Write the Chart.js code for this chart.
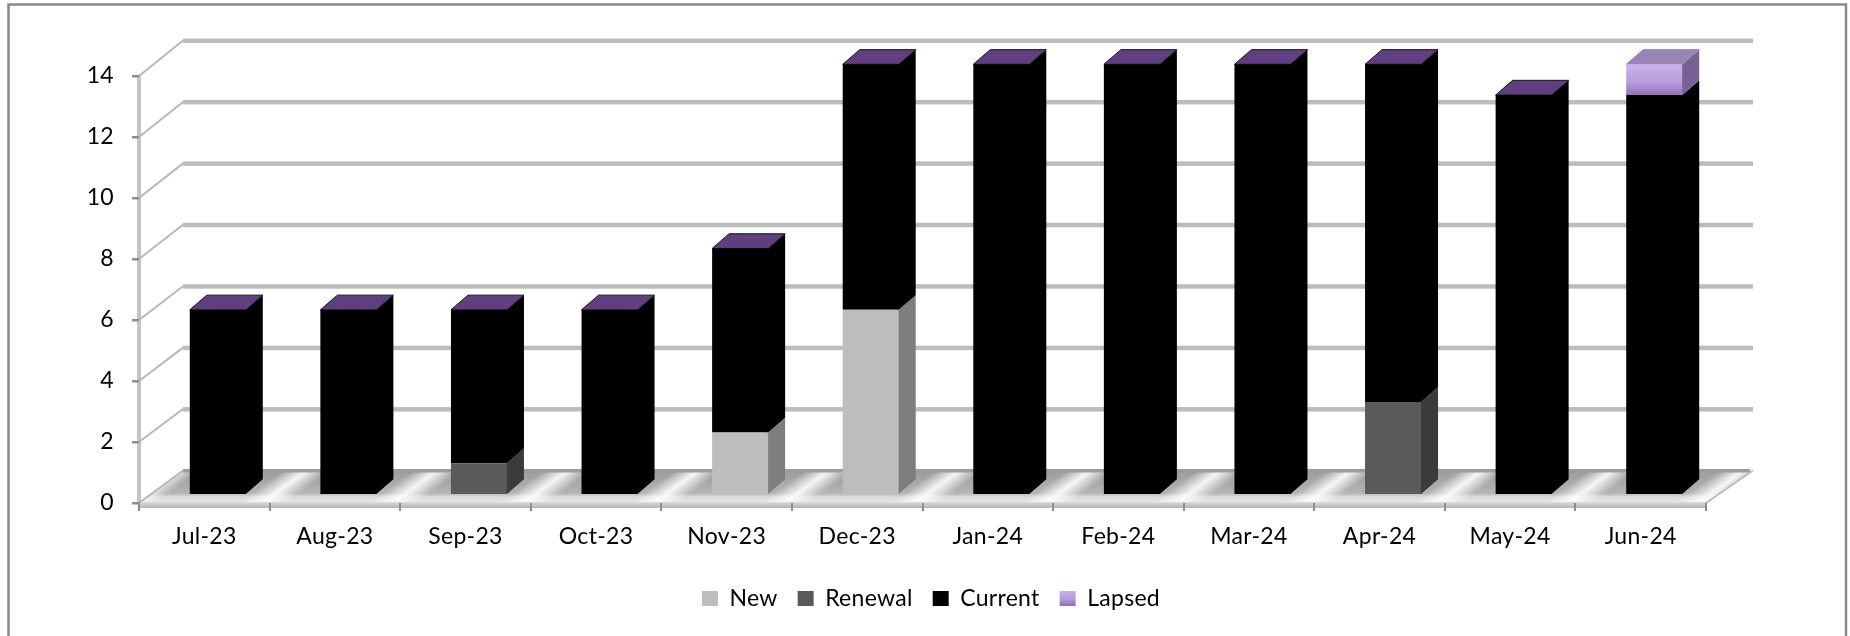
<!DOCTYPE html>
<html>
<head>
<meta charset="utf-8">
<style>
  html, body { margin: 0; padding: 0; background: #fff; overflow: hidden; }
  #chart { display: block; filter: blur(0.6px); }
</style>
<script src="https://cdn.jsdelivr.net/npm/chart.js@4/dist/chart.umd.min.js"></script>
</head>
<body>
<canvas id="chart" width="1850" height="636"></canvas>
<script>
var months = ['Jul-23', 'Aug-23', 'Sep-23', 'Oct-23', 'Nov-23', 'Dec-23', 'Jan-24', 'Feb-24', 'Mar-24', 'Apr-24', 'May-24', 'Jun-24'];
var newValues = [0, 0, 0, 0, 2, 6, 0, 0, 0, 0, 0, 0];
var renewalValues = [0, 0, 1, 0, 0, 0, 0, 0, 0, 3, 0, 0];
var currentValues = [6, 6, 5, 6, 6, 8, 14, 14, 14, 11, 13, 13];
var lapsedValues = [0, 0, 0, 0, 0, 0, 0, 0, 0, 0, 0, 1];

var fontName = 'Lato, Carlito, sans-serif';
var wallDx = 44;        // how far the back wall sits from the front axis
var barShift = 13.5;    // bar front plane, relative to the front axis
var barDepthX = 17;
var barDepthY = 14.7;

// back wall is a little taller than the front axis
function backY(yScale, v) {
    return yScale.getPixelForValue(v) - 32.5 - v * 3 / 14;
}

function lapsedGradient(ctx, top, bottom) {
    var g = ctx.createLinearGradient(0, top, 0, bottom);
    g.addColorStop(0, '#cbb4ec');
    g.addColorStop(0.6, '#b69bdc');
    g.addColorStop(1, '#9373b8');
    return g;
}

function drawFrame(ctx) {
    ctx.strokeStyle = '#8a8a8a';
    ctx.lineWidth = 2.5;
    ctx.beginPath();
    ctx.moveTo(8.5, 640);
    ctx.lineTo(8.5, 4.5);
    ctx.lineTo(1846, 4.5);
    ctx.lineTo(1846, 640);
    ctx.stroke();
}

function drawFloor(chart) {
    var ctx = chart.ctx;
    var y = chart.scales.y;
    var left = chart.chartArea.left, right = chart.chartArea.right;
    var front = y.getPixelForValue(0);
    var back = backY(y, 0);
    var depth = front - back;

    ctx.save();
    ctx.beginPath();
    ctx.moveTo(left, front);
    ctx.lineTo(left + wallDx, back);
    ctx.lineTo(right + wallDx + 3, back);
    ctx.lineTo(right, front);
    ctx.closePath();
    ctx.clip();

    var base = ctx.createLinearGradient(0, back, 0, front);
    base.addColorStop(0, '#9c9c9c');
    base.addColorStop(0.7, '#b4b4b4');
    base.addColorStop(0.8, '#d8d8d8');
    base.addColorStop(1, '#e8e8e8');
    ctx.fillStyle = base;
    ctx.fillRect(left, back, right - left + wallDx + 3, depth);

    // light diagonal stripes between the bars
    var shear = wallDx / depth;
    ctx.transform(1, 0, -shear, 1, shear * front, 0);
    var step = (right - left) / months.length;
    for (var i = 0; i <= months.length; i++) {
        var c = left + step * i - 7;
        var g = ctx.createLinearGradient(c - 24, 0, c + 24, 0);
        g.addColorStop(0, 'rgba(255,255,255,0)');
        g.addColorStop(0.5, 'rgba(255,255,255,0.9)');
        g.addColorStop(1, 'rgba(255,255,255,0)');
        ctx.fillStyle = g;
        ctx.fillRect(c - 24, back, 48, depth);
    }
    ctx.restore();

    // floor back edge, front lip
    ctx.fillStyle = '#9c9c9c';
    ctx.fillRect(left + wallDx, back - 1.5, right - left, 3.5);
    var lip = ctx.createLinearGradient(0, front - 1, 0, front + 5);
    lip.addColorStop(0, '#dcdcdc');
    lip.addColorStop(1, '#b4b4b4');
    ctx.fillStyle = lip;
    ctx.fillRect(left, front - 1, right - left, 6);

    // right floor edge
    ctx.strokeStyle = '#bdbdbd';
    ctx.lineWidth = 2;
    ctx.beginPath();
    ctx.moveTo(right, front);
    ctx.lineTo(right + wallDx + 3, back);
    ctx.stroke();
}

function drawWall(chart) {
    var ctx = chart.ctx;
    var y = chart.scales.y;
    var left = chart.chartArea.left, right = chart.chartArea.right;

    ctx.fillStyle = '#c4c4c4';
    ctx.fillRect(left - 2, chart.chartArea.top, 4, chart.chartArea.bottom - chart.chartArea.top);

    y.ticks.forEach(function (t) {
        var py = y.getPixelForValue(t.value);
        var by = backY(y, t.value);
        ctx.strokeStyle = '#b8b8b8';
        ctx.lineWidth = 2;
        ctx.beginPath();
        ctx.moveTo(left, py);
        ctx.lineTo(left + wallDx, by);
        ctx.stroke();
        if (t.value > 0) {
            ctx.fillStyle = '#bcbcbc';
            ctx.fillRect(left + wallDx, by - 2, right - left + 3, 4.5);
        }
    });
}

var sideColors = ['#7e7e7e', '#3b3b3b', '#000000', '#7a6195'];

var wallPlugin = {
    id: 'wall3d',
    beforeLayout: function (chart) {
        chart.ctx.letterSpacing = '0.3px';
    },
    beforeDraw: function (chart) {
        chart.ctx.letterSpacing = '0.3px';
        drawFrame(chart.ctx);
        drawFloor(chart);
        drawWall(chart);
    },
    afterLayout: function (chart) {
        // legend is centred on the picture, not on the plot
        var l = chart.legend;
        l.left = 12;
        l.right = 1850;
        l.width = 1838;
        l.top = 567;
        l.bottom = 636;
    },
    beforeDatasetsDraw: function (chart) {
        var ctx = chart.ctx;
        ctx.save();
        ctx.translate(barShift, 0);
        chart.data.datasets.forEach(function (ds, d) {
            chart.getDatasetMeta(d).data.forEach(function (bar, i) {
                var p = bar.getProps(['x', 'y', 'base', 'width'], true);
                var r = p.x + p.width / 2;
                if (ds.data[i] > 0) {
                    ctx.fillStyle = sideColors[d];
                    ctx.beginPath();
                    ctx.moveTo(r - 1, p.base);
                    ctx.lineTo(r, p.base);
                    ctx.lineTo(r + barDepthX, p.base - barDepthY);
                    ctx.lineTo(r + barDepthX, p.y - barDepthY);
                    ctx.lineTo(r, p.y);
                    ctx.lineTo(r - 1, p.y);
                    ctx.closePath();
                    ctx.fill();
                }
                // Lapsed sits on top of every stack, so it gives the cap even at 0
                if (d === chart.data.datasets.length - 1) {
                    ctx.fillStyle = ds.data[i] > 0 ? '#9a84b6' : '#5f3f80';
                    ctx.strokeStyle = ds.data[i] > 0 ? '#9a84b6' : '#141414';
                    ctx.lineWidth = 1;
                    ctx.beginPath();
                    ctx.moveTo(p.x - p.width / 2, p.y);
                    ctx.lineTo(p.x - p.width / 2 + barDepthX, p.y - barDepthY);
                    ctx.lineTo(r + barDepthX, p.y - barDepthY);
                    ctx.lineTo(r, p.y);
                    ctx.closePath();
                    ctx.fill();
                    ctx.stroke();
                }
            });
        });
    },
    afterDatasetsDraw: function (chart) {
        chart.ctx.restore();
    }
};

var canvas = document.getElementById('chart');
var ctx = canvas.getContext('2d');

function makeSet(label, values, color) {
    return {
        label: label,
        data: values,
        backgroundColor: color,
        borderWidth: 0,
        yAxisID: 'yBar',
        clip: false,
        categoryPercentage: 1,
        barPercentage: 0.4288
    };
}

var myChart = new Chart(canvas, {
    type: 'bar',
    data: {
        labels: months,
        datasets: [
            makeSet('New', newValues, '#bdbdbd'),
            makeSet('Renewal', renewalValues, '#5a5a5a'),
            makeSet('Current', currentValues, '#000000'),
            makeSet('Lapsed', lapsedValues, function (c) {
                var s = c.chart.scales.yBar;
                var i = c.dataIndex;
                if (!s) return '#b69bdc';
                var below = newValues[i] + renewalValues[i] + currentValues[i];
                return lapsedGradient(c.chart.ctx, s.getPixelForValue(below + lapsedValues[i]), s.getPixelForValue(below));
            })
        ]
    },
    options: {
        responsive: false,
        animation: false,
        layout: { padding: { top: 76, right: 144, left: 0, bottom: 0 } },
        scales: {
            x: {
                stacked: true,
                afterFit: function (s) { s.height = 80; },
                border: { display: false },
                grid: { drawOnChartArea: false, tickColor: '#8e8e8e', tickLength: 8, lineWidth: 2 },
                ticks: { color: '#000', padding: 12, maxRotation: 0, autoSkip: false, font: { family: fontName, size: 23 } }
            },
            y: {
                min: 0,
                max: 14,
                afterFit: function (s) { s.width = 139; },
                border: { display: false },
                grid: { drawOnChartArea: false, tickColor: '#8e8e8e', tickLength: 7, lineWidth: 2.5 },
                ticks: { stepSize: 2, color: '#000', padding: 18, font: { family: fontName, size: 23 } }
            },
            yBar: {
                display: false,
                stacked: true,
                min: -0.295,
                max: 13.62
            }
        },
        plugins: {
            tooltip: { enabled: false },
            legend: {
                position: 'bottom',
                labels: {
                    color: '#000',
                    boxWidth: 16,
                    boxHeight: 15,
                    padding: 20,
                    font: { family: fontName, size: 23 },
                    generateLabels: function (chart) {
                        return chart.data.datasets.map(function (ds, i) {
                            return {
                                text: ds.label,
                                datasetIndex: i,
                                lineWidth: 0,
                                fontColor: '#000',
                                fillStyle: i === 3 ? lapsedGradient(chart.ctx, 590, 605) : ds.backgroundColor
                            };
                        });
                    }
                }
            }
        }
    },
    plugins: [wallPlugin]
});
</script>
</body>
</html>
